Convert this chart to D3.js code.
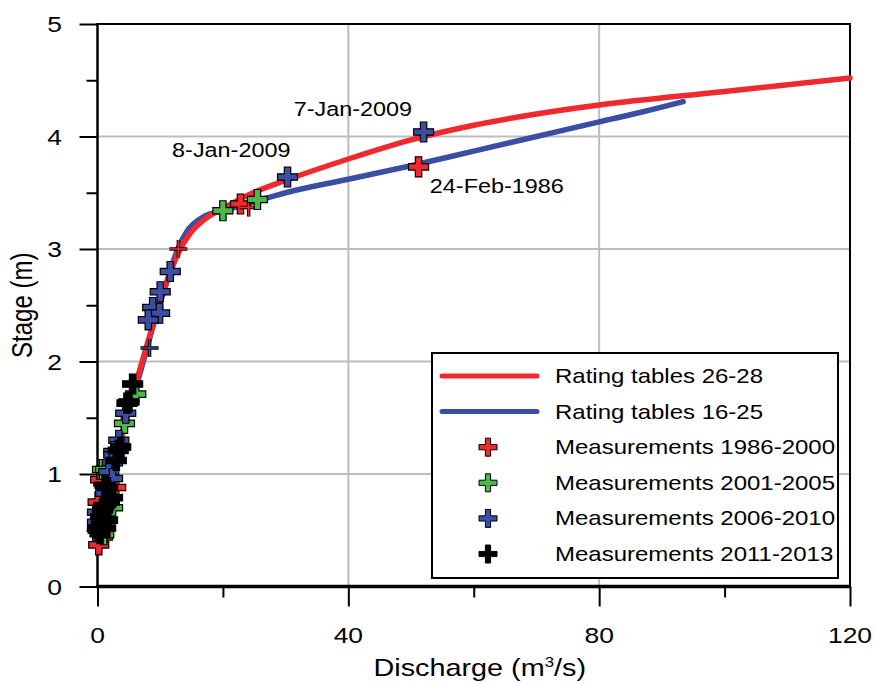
<!DOCTYPE html>
<html>
<head>
<meta charset="utf-8">
<script src="https://cdn.jsdelivr.net/npm/d3@7"></script>
<style>
  body { margin: 0; background: #fff; }
  text { font-family: 'Liberation Sans', Arial, sans-serif; fill: #000; }
</style>
</head>
<body>
<svg width="875" height="684"></svg>
<script>
// rating curves: [discharge m3/s, stage m]
let rating2628 = [[0.2, 0.4], [1, 0.7], [2.2, 1.0], [4.2, 1.4], [6.4, 1.86], [8.7, 2.3], [11, 2.7], [13.2, 3.0], [14.8, 3.14], [17, 3.26], [20, 3.36], [24.4, 3.49], [30, 3.61], [40, 3.8], [50, 3.97], [60, 4.1], [70, 4.2], [80, 4.28], [100, 4.4], [120, 4.52]]
let rating1625 = [[0.2, 0.4], [1, 0.7], [2.2, 1.0], [4.1, 1.4], [6.6, 1.86], [8.8, 2.3], [11, 2.7], [12.8, 3.0], [14.3, 3.16], [17, 3.29], [20, 3.34], [24.4, 3.41], [30, 3.5], [40, 3.62], [50, 3.74], [60, 3.87], [70, 4.0], [80, 4.13], [87, 4.22], [93.4, 4.31]]

// measurements
let meas1986 = [[22.8, 3.40], [51.2, 3.73], [1.0, 0.92], [0.5, 0.95], [2.9, 0.88], [0.1, 0.75], [0.8, 0.44], [0.2, 0.37], [1.5, 0.98]]
let meas1986Thin = [[12.9, 3.0], [24.1, 3.37]]
let meas2001 = [[20.0, 3.34], [25.5, 3.44], [6.1, 1.71], [4.3, 1.45], [0.8, 1.04], [1.3, 1.04], [2.4, 0.70], [0.1, 0.50], [1.0, 0.46]]
let meas2006 = [[30.3, 3.64], [52.0, 4.04], [11.6, 2.80], [10.0, 2.62], [8.8, 2.48], [9.9, 2.43], [8.1, 2.37], [4.5, 1.54], [3.4, 1.30], [2.6, 1.20], [2.6, 1.17], [2.4, 1.10], [1.8, 1.02], [2.4, 0.96], [1.3, 0.83], [0.0, 0.66], [0.0, 0.57], [1.2, 0.60]]
let meas2006Thin = [[8.3, 2.12]]
let meas2011 = [[5.6, 1.80], [5.0, 1.64], [4.7, 1.63], [3.7, 1.24], [3.3, 1.21], [3.0, 1.12], [1.6, 0.88], [2.4, 0.79], [1.0, 0.71], [0.5, 0.62], [1.6, 0.59], [0.0, 0.52], [1.3, 0.52], [0.6, 0.55], [0.8, 0.68], [1.9, 0.75], [1.2, 0.9], [0.4, 0.47]]

let annotations = [
  { text: '7-Jan-2009', q: 31.3, h: 4.18 },
  { text: '8-Jan-2009', q: 11.9, h: 3.82 },
  { text: '24-Feb-1986', q: 53.0, h: 3.5 }
]

let legendItems = [
  { label: 'Rating tables 26-28', kind: 'line', color: '#ee2a2f' },
  { label: 'Rating tables 16-25', kind: 'line', color: '#3a4fa3' },
  { label: 'Measurements 1986-2000', kind: 'mark', color: '#ee2a2f' },
  { label: 'Measurements 2001-2005', kind: 'mark', color: '#4cb848' },
  { label: 'Measurements 2006-2010', kind: 'mark', color: '#3a4fa3' },
  { label: 'Measurements 2011-2013', kind: 'mark', color: '#000' }
]

let xMajor = [0, 40, 80, 120]
let xMinor = [20, 60, 100]
let yMajor = [0, 1, 2, 3, 4, 5]
let yMinor = [0.5, 1.5, 2.5, 3.5, 4.5]

let margin = { top: 24, bottom: 97.5, left: 97.5, right: 25 }
let width = 875
let height = 684

let xScale = d3.scaleLinear().domain([0, 120]).range([margin.left, width - margin.right])
let yScale = d3.scaleLinear().domain([0, 5]).range([586.5, margin.top])

let svg = d3.select('svg')

// text, stretched horizontally like the original
function label(g, x, y, s, size, anchor, rot) {
  return g.append('text')
    .attr('transform', `translate(${x},${y}) scale(1.2,1)` + (rot ? ` rotate(${rot})` : ''))
    .attr('text-anchor', anchor || 'start')
    .attr('font-size', size)
    .text(s)
}

// gridlines
svg.append('g').selectAll('line')
  .data([40, 80])
  .enter().append('line')
  .attr('x1', d => xScale(d)).attr('x2', d => xScale(d))
  .attr('y1', yScale(0)).attr('y2', yScale(5))
  .attr('stroke', '#bdbdbd').attr('stroke-width', 2)
svg.append('g').selectAll('line')
  .data([1, 2, 3, 4])
  .enter().append('line')
  .attr('x1', xScale(0)).attr('x2', xScale(120))
  .attr('y1', d => yScale(d)).attr('y2', d => yScale(d))
  .attr('stroke', '#bdbdbd').attr('stroke-width', 2)

// frame top / right
svg.append('path')
  .attr('d', `M${xScale(0)},${yScale(5)}H${xScale(120)}V${yScale(0)}`)
  .attr('fill', 'none').attr('stroke', '#000').attr('stroke-width', 2)

// axes
let axisB = svg.append('g').attr('transform', `translate(0,${yScale(0)})`)
axisB.call(d3.axisBottom(xScale).tickValues(xMajor).tickSize(20).tickFormat(''))
axisB.call(g => g.append('g').call(d3.axisBottom(xScale).tickValues(xMinor).tickSize(11).tickFormat('')))
axisB.selectAll('.domain').remove()
axisB.selectAll('line').attr('stroke', '#000').attr('stroke-width', 2)
svg.append('line')
  .attr('x1', xScale(0) - 1).attr('x2', xScale(120) + 1)
  .attr('y1', yScale(0)).attr('y2', yScale(0))
  .attr('stroke', '#000').attr('stroke-width', 3.5)

let axisL = svg.append('g').attr('transform', `translate(${xScale(0)},0)`)
axisL.call(d3.axisLeft(yScale).tickValues(yMajor).tickSize(18).tickFormat(''))
axisL.call(g => g.append('g').call(d3.axisLeft(yScale).tickValues(yMinor).tickSize(11).tickFormat('')))
axisL.selectAll('.domain').remove()
axisL.selectAll('line').attr('stroke', '#000').attr('stroke-width', 2)
svg.append('line')
  .attr('x1', xScale(0)).attr('x2', xScale(0))
  .attr('y1', yScale(5) - 1).attr('y2', yScale(0))
  .attr('stroke', '#000').attr('stroke-width', 2.5)

xMajor.forEach(v => label(svg, xScale(v), 643, v, 22, 'middle'))
yMajor.forEach(v => label(svg, 62, yScale(v) + 8, v, 22, 'end'))
label(svg, (xScale(0) + xScale(120)) / 2 + 6, 676, '', 24, 'middle')
  .call(t => {
    t.append('tspan').text('Discharge (m')
    t.append('tspan').attr('font-size', 14).attr('dy', -9).text('3')
    t.append('tspan').attr('dy', 9).text('/s)')
  })
label(svg, 32, yScale(2.5), 'Stage (m)', 24, 'middle', -90)

// rating curves
let line = d3.line()
  .x(d => xScale(d[0]))
  .y(d => yScale(d[1]))
  .curve(d3.curveMonotoneX)

svg.append('path')
  .attr('d', line(rating1625))
  .attr('fill', 'none').attr('stroke', '#3a4fa3')
  .attr('stroke-width', 5.5).attr('stroke-linecap', 'round')
svg.append('path')
  .attr('d', line(rating2628))
  .attr('fill', 'none').attr('stroke', '#ee2a2f')
  .attr('stroke-width', 5.5).attr('stroke-linecap', 'round')

// plus markers
function crossPath(a, t) {
  return `M${-t},${-a}H${t}V${-t}H${a}V${t}H${t}V${a}H${-t}V${t}H${-a}V${-t}H${-t}Z`
}

function drawMarks(data, color, a, t) {
  svg.append('g').selectAll('path')
    .data(data)
    .enter().append('path')
    .attr('transform', d => `translate(${xScale(d[0])},${yScale(d[1])})`)
    .attr('d', crossPath(a, t))
    .attr('fill', color)
    .attr('stroke', '#000').attr('stroke-width', 1.2)
}

function drawThin(data, color) {
  svg.append('g').selectAll('path')
    .data(data)
    .enter().append('path')
    .attr('transform', d => `translate(${xScale(d[0])},${yScale(d[1])})`)
    .attr('d', 'M-9,0H9M0,-9V9')
    .attr('stroke', '#000').attr('stroke-width', 3.5)
    .clone()
    .attr('stroke', color).attr('stroke-width', 1.6)
}

drawMarks(meas1986, '#ee2a2f', 10, 3.2)
drawThin(meas1986Thin, '#ee2a2f')
drawMarks(meas2001, '#4cb848', 10, 3.2)
drawMarks(meas2006, '#3a4fa3', 10, 3.2)
drawThin(meas2006Thin, '#3a4fa3')
drawMarks(meas2011, '#000', 10, 3.2)

// annotations
annotations.forEach(a => label(svg, xScale(a.q), yScale(a.h), a.text, 19.5, 'start'))

// legend
let legend = svg.append('g').attr('transform', 'translate(432,353)')
legend.append('rect')
  .attr('width', 406).attr('height', 225)
  .attr('fill', '#fff').attr('stroke', '#000').attr('stroke-width', 2)

legendItems.forEach((d, i) => {
  let y = 23 + i * 35.6
  if (d.kind === 'line') {
    legend.append('line')
      .attr('x1', 10).attr('x2', 105).attr('y1', y).attr('y2', y)
      .attr('stroke', d.color).attr('stroke-width', 5).attr('stroke-linecap', 'round')
  } else {
    legend.append('path')
      .attr('transform', `translate(56,${y})`)
      .attr('d', crossPath(9, 2.6))
      .attr('fill', d.color)
      .attr('stroke', '#000').attr('stroke-width', 1)
  }
  label(legend, 123, y + 7, d.label, 20, 'start')
})
</script>
</body>
</html>
